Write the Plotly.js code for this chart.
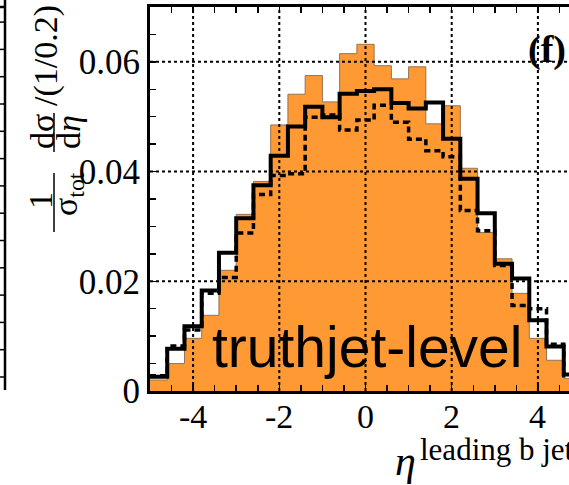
<!DOCTYPE html>
<html><head><meta charset="utf-8">
<script src="https://cdn.plot.ly/plotly-3.0.1.min.js"></script>
<style>html,body{margin:0;padding:0;overflow:hidden;background:#fff}#chart{width:600px;height:485px}</style>
</head><body><div id="chart"></div>
<script>
// ---- data ----
const binEdges = [-5.0,-4.6,-4.2,-3.8,-3.4,-3.0,-2.6,-2.2,-1.8,-1.4,-1.0,-0.6,-0.2,0.2,0.6,1.0,1.4,1.8,2.2,2.6,3.0,3.4,3.8,4.2,4.6,5.0];
const truthjetFill = [0.0020,0.0050,0.0096,0.0138,0.0220,0.0322,0.0382,0.0485,0.0541,0.0575,0.0527,0.0615,0.0632,0.0593,0.0569,0.0591,0.0487,0.0520,0.0406,0.0289,0.0241,0.0178,0.0096,0.0056,0.0023];
const solidLine    = [0.0026,0.0077,0.0118,0.0183,0.0252,0.0315,0.0375,0.0429,0.0482,0.0518,0.0499,0.0542,0.0547,0.0550,0.0525,0.0515,0.0526,0.0460,0.0387,0.0324,0.0232,0.0205,0.0129,0.0081,0.0030];
const dashedLine   = [0.0028,0.0082,0.0111,0.0178,0.0207,0.0288,0.0358,0.0393,0.0396,0.0499,0.0503,0.0476,0.0494,0.0521,0.0490,0.0459,0.0438,0.0427,0.0329,0.0292,0.0229,0.0156,0.0150,0.0085,0.0028];
const xTickVals = [-4,-2,0,2,4];
const xTickText = ['-4','-2','0','2','4'];
const yTickVals = [0,0.02,0.04,0.06];
const yTickText = ['0','0.02','0.04','0.06'];

// ---- layout helpers ----
const W = 600, H = 485, L = 150, R = 19, T = 7, B = 94;
const pw = W - L - R, ph = H - T - B;
const px = v => (v - L) / pw;
const py = v => (H - B - v) / ph;
const serif = 'Liberation Serif, Times New Roman, serif';
const sans = 'Liberation Sans, Arial, sans-serif';
const stepY = v => v.concat([v[v.length - 1]]);

const traces = [
  {x: binEdges, y: stepY(truthjetFill), type: 'scatter', mode: 'lines',
   line: {shape: 'hv', color: 'rgb(150,115,80)', width: 1},
   fill: 'tozeroy', fillcolor: '#FF9933', hoverinfo: 'skip', showlegend: false},
  {x: binEdges, y: stepY(dashedLine), type: 'scatter', mode: 'lines',
   line: {shape: 'hv', color: 'black', width: 3.5, dash: '6px,4px'}, showlegend: false},
  {x: binEdges, y: stepY(solidLine), type: 'scatter', mode: 'lines',
   line: {shape: 'hv', color: 'black', width: 4}, showlegend: false}
];

const shapes = [];
xTickVals.forEach(v => shapes.push({type: 'line', xref: 'x', yref: 'paper', x0: v, x1: v, y0: 0, y1: 1,
  layer: 'above', line: {color: 'black', width: 2, dash: '3px,3px'}}));
yTickVals.filter(v => v > 0).forEach(v => shapes.push({type: 'line', xref: 'paper', yref: 'y', x0: 0, x1: 1, y0: v, y1: v,
  layer: 'above', line: {color: 'black', width: 2, dash: '3px,3px'}}));
// fraction bars of the y title
shapes.push({type: 'line', xref: 'paper', yref: 'paper', x0: px(54), x1: px(54), y0: py(173), y1: py(232), line: {color: 'black', width: 1.5}});
shapes.push({type: 'line', xref: 'paper', yref: 'paper', x0: px(54), x1: px(54), y0: py(113), y1: py(152), line: {color: 'black', width: 1.5}});
// remnant of the neighbouring panel on the left
shapes.push({type: 'line', xref: 'paper', yref: 'paper', x0: px(5), x1: px(5), y0: py(0), y1: py(390), line: {color: 'black', width: 2.5}});
shapes.push({type: 'line', xref: 'paper', yref: 'paper', x0: px(0), x1: px(5), y0: py(7), y1: py(7), line: {color: 'black', width: 2.5}});
for (let yy = 377; yy > 10; yy -= 27.3) {
  shapes.push({type: 'line', xref: 'paper', yref: 'paper', x0: px(0), x1: px(5), y0: py(yy), y1: py(yy), line: {color: 'black', width: 1.5}});
}

const ann = (text, x, y, size, extra) => Object.assign({text, xref: 'paper', yref: 'paper', x: px(x), y: py(y),
  showarrow: false, xanchor: 'center', yanchor: 'middle', font: {family: serif, size, color: 'black'}}, extra || {});

const annotations = [
  ann('truthjet-level', 367, 347, 57, {font: {family: sans, size: 57, color: 'black'}}),
  ann('<b>(f)</b>', 547, 50, 38),
  ann('<i>η</i>', 405, 461, 42),
  ann('leading b jet', 418, 449, 31, {xanchor: 'left'}),
  ann('1', 41, 201, 34, {textangle: -90}),
  ann('σ<sub>tot</sub>', 68, 194, 34, {textangle: -90}),
  ann('dσ', 42, 132, 34, {textangle: -90}),
  ann('d<i>η</i>', 68, 132, 34, {textangle: -90}),
  ann('/(1/0.2)', 46, 56, 34, {textangle: -90})
];
// x tick labels placed from the tick arrays
xTickVals.forEach((v, i) => annotations.push({text: xTickText[i], xref: 'x', yref: 'paper', x: v, y: py(416),
  showarrow: false, xanchor: 'center', yanchor: 'middle', font: {family: serif, size: 34, color: 'black'}}));

const axisCommon = {
  showline: true, linewidth: 3, linecolor: 'black', mirror: 'ticks',
  ticks: 'inside', ticklen: 6, tickwidth: 1.5, tickcolor: 'black',
  showgrid: false, zeroline: false, fixedrange: true,
  tickfont: {family: serif, size: 35, color: 'black'}
};

const layout = {
  width: W, height: H, margin: {l: L, r: R, t: T, b: B},
  paper_bgcolor: 'white', plot_bgcolor: 'white', showlegend: false,
  xaxis: Object.assign({}, axisCommon, {range: [-5, 5], tickmode: 'array', tickvals: xTickVals, ticktext: xTickText,
    showticklabels: false,
    minor: {tick0: 0, dtick: 0.5, ticks: 'inside', ticklen: 6, tickwidth: 1.5, tickcolor: 'black', showgrid: false}}),
  yaxis: Object.assign({}, axisCommon, {range: [0, 0.07], tickmode: 'array', tickvals: yTickVals, ticktext: yTickText,
    minor: {tick0: 0, dtick: 0.005, ticks: 'inside', ticklen: 6, tickwidth: 1.5, tickcolor: 'black', showgrid: false}}),
  shapes, annotations
};

Plotly.newPlot('chart', traces, layout, {displayModeBar: false, staticPlot: true});
</script>
</body></html>
